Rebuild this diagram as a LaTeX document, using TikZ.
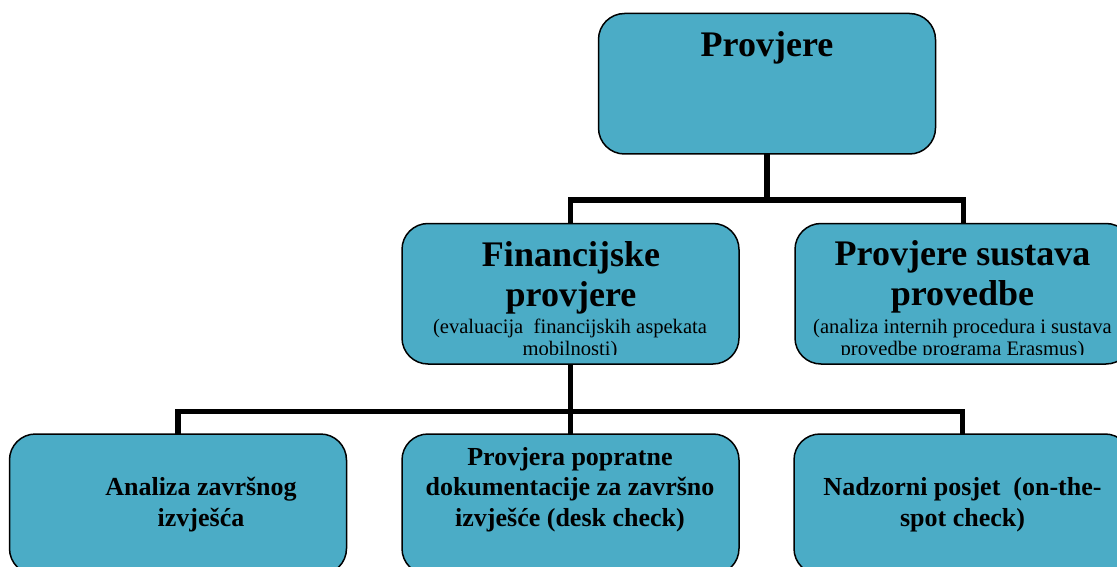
\documentclass[tikz,border=0pt]{standalone}
\usepackage{fontspec}
\setmainfont{Liberation Serif}
\definecolor{boxfill}{HTML}{4BACC6}
\begin{document}
\begin{tikzpicture}[x=1pt,y=-1pt,
  box/.style={draw=black, line width=1.5pt, fill=boxfill, rounded corners=26pt,
    minimum width=337pt, minimum height=140.5pt, inner sep=0pt, outer sep=0pt},
  conn/.style={draw=black, line width=5.5pt},
  big/.style={font=\fontsize{36}{42}\selectfont\bfseries, anchor=base, inner sep=0pt},
  small/.style={font=\fontsize{20.6}{24}\selectfont, anchor=base, inner sep=0pt},
  mid/.style={font=\fontsize{26}{30}\selectfont\bfseries, anchor=base, inner sep=0pt}]
\useasboundingbox (0,0) rectangle (1117,567);
% boxes
\node[box] (top)  at (767,83.75) {};
\node[box] (fin)  at (570.5,293.75) {};
\node[box] (sus)  at (963.5,293.75) {};
\node[box] (ana)  at (178,504.25) {};
\node[box] (desk) at (570.5,504.25) {};
\node[box] (spot) at (962.5,504.25) {};
% junctions
\coordinate (j1) at (767,200);
\coordinate (j2) at (570.5,411.5);
% connectors
\draw[conn] (top.south) -- (j1);
\draw[conn] (fin.north) |- (j1) -| (sus.north);
\draw[conn] (fin.south) -- (desk.north);
\draw[conn] (ana.north) |- (j2) -| (spot.north);
% texts
\node[big] (t0) at (767,57) {Provjere};
\node[big] (t1a) at (571,266.5) {Financijske};
\node[big] (t1b) at (571,306.5) {provjere};
\node[small] (t1c) at (570,333.5) {(evaluacija\ \ financijskih aspekata};
\node[big] (t2a) at (962.5,265) {Provjere sustava};
\node[big] (t2b) at (962.5,305.5) {provedbe};
\node[small] (t2c) at (962.5,333.5) {(analiza internih procedura i sustava};
\begin{scope}
\clip (380,340) rectangle (1117,354.5);
\node[small] (t1d) at (570,355.5) {mobilnosti)};
\node[small] (t2d) at (962.5,355.5) {provedbe programa Erasmus)};
\end{scope}
\node[mid] (t3a) at (201,495) {Analiza završnog};
\node[mid] (t3b) at (201,526) {izvješća};
\node[mid] (t4a) at (570,465) {Provjera popratne};
\node[mid] (t4b) at (570,495) {dokumentacije za završno};
\node[mid] (t4c) at (570,526) {izvješće (desk check)};
\node[mid] (t5a) at (962.5,495) {Nadzorni posjet\ \ (on-the-};
\node[mid] (t5b) at (962.5,526) {spot check)};
\end{tikzpicture}
\end{document}
